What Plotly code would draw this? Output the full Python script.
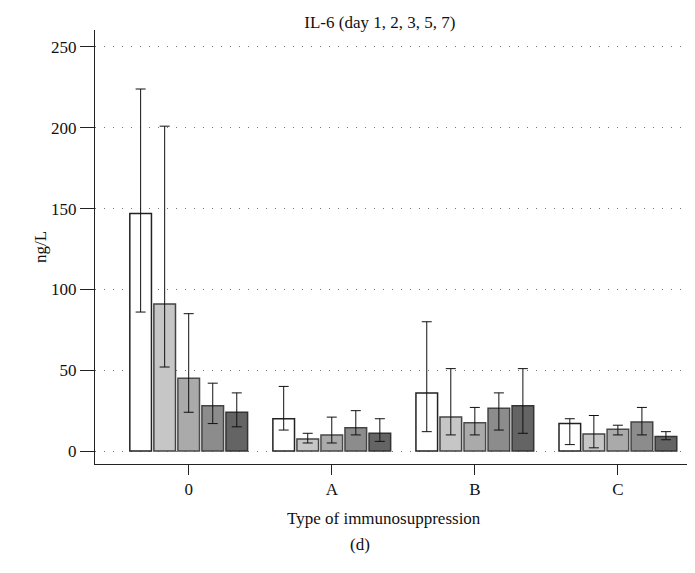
import plotly.graph_objects as go

groups = ["0", "A", "B", "C"]
days = ["Day 1", "Day 2", "Day 3", "Day 5", "Day 7"]
values = [[147, 20, 36, 17], [91, 7.5, 21, 10.5], [45, 10, 17.5, 13.5], [28, 14.5, 26.5, 18], [24, 11, 28, 9]]
upper = [[224, 40, 80, 20], [201, 11, 51, 22], [85, 21, 27, 16], [42, 25, 36, 27], [36, 20, 51, 12]]
lower = [[86, 13, 12, 4], [52, 5, 10, 2], [24, 5, 10, 10], [17, 10, 13, 10], [15, 6, 11, 7]]
fills = ["#ffffff", "#c6c6c6", "#aaaaaa", "#8c8c8c", "#646464"]
lines = ["#222222", "#444444", "#4a4a4a", "#444444", "#333333"]

fig = go.Figure()
for i in range(5):
    fig.add_bar(x=list(range(4)), y=values[i], name=days[i],
                marker=dict(color=fills[i], line=dict(color=lines[i], width=1.5)),
                error_y=dict(type="data", symmetric=False,
                             array=[u - v for u, v in zip(upper[i], values[i])],
                             arrayminus=[v - l for v, l in zip(values[i], lower[i])],
                             color="#111111", thickness=1, width=5))
fnt = "Liberation Serif"
plot_h = 573 - 22 - 117
fig.update_layout(
    width=695, height=573, barmode="group", bargap=0.16, bargroupgap=0.1,
    showlegend=False, plot_bgcolor="white", paper_bgcolor="white",
    margin=dict(l=87, r=5, t=22, b=117),
    font=dict(family=fnt, size=17, color="#111111"),
    title=dict(text="IL-6 (day 1, 2, 3, 5, 7)", x=0.535, xanchor="center", y=0.975, yanchor="middle",
               font=dict(size=17)),
    xaxis=dict(tickvals=list(range(4)), ticktext=groups, range=[-0.655, 3.56],
               showline=True, linecolor="#222", ticks="outside", ticklen=10, tickcolor="#222",
               showgrid=False, zeroline=False, automargin=False, tickfont=dict(size=17)),
    yaxis=dict(range=[-8, 260.5], tickvals=[0, 50, 100, 150, 200, 250],
               showline=True, linecolor="#222", ticks="outside", ticklen=14, tickcolor="#222",
               showgrid=True, gridcolor="#777", griddash="1px,8px", gridwidth=1, zeroline=False,
               automargin=False, tickfont=dict(size=17),
               title=dict(text="ng/L", standoff=0, font=dict(size=17))),
)
fig.add_annotation(text="Type of immunosuppression", x=0.48, y=(573 - 117 - 522) / plot_h,
                   xref="paper", yref="paper", showarrow=False, font=dict(size=17, family=fnt))
fig.add_annotation(text="(d)", x=0.44, y=(573 - 117 - 548) / plot_h, xref="paper", yref="paper",
                   showarrow=False, font=dict(size=17, family=fnt))
fig.write_html("out.html")
